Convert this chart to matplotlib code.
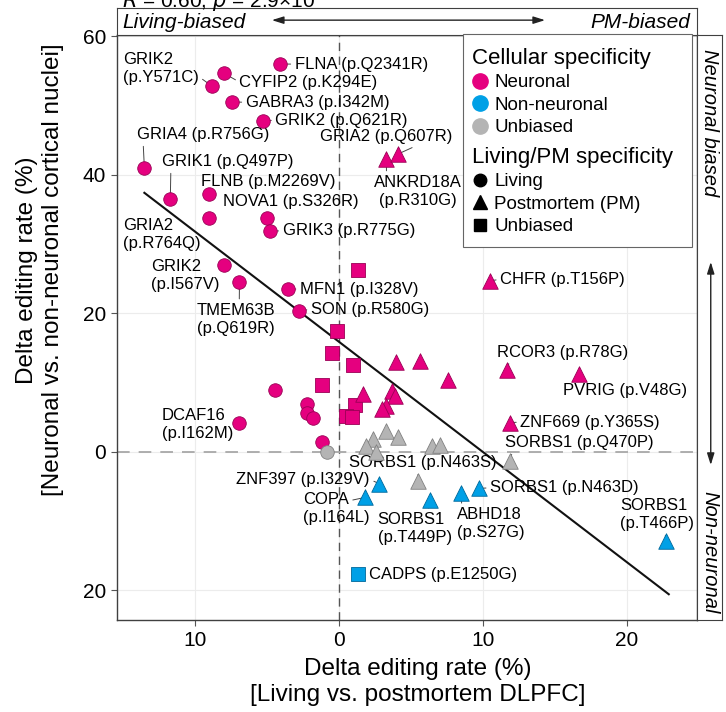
import matplotlib
matplotlib.use("Agg")
import matplotlib.pyplot as plt
from matplotlib.lines import Line2D
from matplotlib.patches import Rectangle

plt.rcParams["font.family"] = ["Liberation Sans", "DejaVu Sans"]

# delta editing rate: living vs PM (x) and neuronal vs non-neuronal nuclei (y)
site = [
    "GRIK2 (p.Y571C)", "CYFIP2 (p.K294E)", "FLNA (p.Q2341R)", "GABRA3 (p.I342M)",
    "GRIK2 (p.Q621R)", "GRIA4 (p.R756G)", "GRIK1 (p.Q497P)", "FLNB (p.M2269V)",
    "GRIA2 (p.R764Q)", "NOVA1 (p.S326R)", "GRIK3 (p.R775G)", "GRIK2 (p.I567V)",
    "TMEM63B (p.Q619R)", "MFN1 (p.I328V)", "SON (p.R580G)", "", "", "", "",
    "DCAF16 (p.I162M)", "", "",
    "", "", "", "", "", "", "", "",
    "ANKRD18A (p.R310G)", "GRIA2 (p.Q607R)", "CHFR (p.T156P)", "", "", "",
    "RCOR3 (p.R78G)", "PVRIG (p.V48G)", "ZNF669 (p.Y365S)", "", "", "", "", "",
    "", "", "", "", "", "", "", "SORBS1 (p.N463S)", "SORBS1 (p.Q470P)",
    "ZNF397 (p.I329V)", "COPA (p.I164L)", "SORBS1 (p.T449P)", "ABHD18 (p.S27G)",
    "SORBS1 (p.N463D)", "SORBS1 (p.T466P)",
    "CADPS (p.E1250G)",
]
d_living_pm = [
    -8.8, -8.0, -4.1, -7.4, -5.3, -13.5, -11.7, -9.0, -9.0, -5.0, -4.8, -8.0,
    -6.9, -3.5, -2.8, -4.4, -2.2, -2.2, -1.8, -6.9, -1.2, -0.8,
    1.3, -0.1, -0.5, 1.0, -1.2, 1.1, 0.5, 0.9,
    3.3, 4.1, 10.5, 4.0, 5.6, 7.6, 11.7, 16.7, 11.9, 1.7, 3.7, 3.9, 3.3, 3.0,
    2.4, 3.3, 4.1, 1.9, 2.6, 6.5, 7.0, 5.5, 11.9,
    2.8, 1.8, 6.3, 8.5, 9.7, 22.7,
    1.3,
]
d_neuronal = [
    52.8, 54.7, 56.0, 50.5, 47.8, 41.0, 36.5, 37.3, 33.8, 33.8, 31.9, 27.0,
    24.5, 23.5, 20.3, 8.9, 6.9, 5.6, 4.9, 4.2, 1.4, 0.0,
    26.3, 17.4, 14.2, 12.5, 9.6, 6.7, 5.2, 5.0,
    42.3, 43.0, 24.7, 12.9, 13.1, 10.4, 11.8, 11.2, 4.2, 8.3, 8.8, 8.0, 6.6, 6.2,
    1.9, 3.0, 2.1, 0.9, -0.1, 0.9, 1.0, -4.2, -1.3,
    -4.6, -6.6, -7.0, -6.0, -5.3, -12.9,
    -17.7,
]
cell_bias = (["Neuronal"] * 21 + ["Unbiased"] + ["Neuronal"] * 8 + ["Neuronal"] * 14
             + ["Unbiased"] * 9 + ["Non-neuronal"] * 7)
state_bias = (["Living"] * 22 + ["Unbiased"] * 8 + ["Postmortem"] * 14
              + ["Postmortem"] * 9 + ["Postmortem"] * 6 + ["Unbiased"])

fit_slope = -1.593
fit_intercept = 15.9
fit_x = [-13.5, 22.9]

# where each gene label sits: text x, text y, ha, leader start on text box, two lines
label_place = {
    "GRIK2 (p.Y571C)": (-15.0, 55.4, "left", (1.0, 0.25), True),
    "CYFIP2 (p.K294E)": (-6.9, 53.4, "left", (0, 0.5), False),
    "FLNA (p.Q2341R)": (-3.06, 56.0, "left", (0, 0.5), False),
    "GABRA3 (p.I342M)": (-6.46, 50.5, "left", (0, 0.5), False),
    "GRIK2 (p.Q621R)": (-4.4, 47.9, "left", (0, 0.5), False),
    "GRIA2 (p.Q607R)": (3.3, 45.5, "center", (0.75, 0), False),
    "ANKRD18A (p.R310G)": (5.5, 37.6, "center", (0.14, 1), True),
    "GRIA4 (p.R756G)": (-14.0, 45.8, "left", (0.045, 0), False),
    "GRIK1 (p.Q497P)": (-12.3, 41.9, "left", (0.07, 0), False),
    "FLNB (p.M2269V)": (-9.6, 39.0, "left", (0.06, 0), False),
    "NOVA1 (p.S326R)": (-8.06, 36.1, "left", (0.3, 0), False),
    "GRIK3 (p.R775G)": (-3.9, 31.9, "left", (0, 0.5), False),
    "GRIA2 (p.R764Q)": (-15.0, 31.4, "left", (0.88, 0.6), True),
    "GRIK2 (p.I567V)": (-13.06, 25.5, "left", (0.8, 0.75), True),
    "TMEM63B (p.Q619R)": (-9.86, 19.1, "left", (0.54, 1), True),
    "MFN1 (p.I328V)": (-2.7, 23.5, "left", (0, 0.5), False),
    "SON (p.R580G)": (-1.94, 20.6, "left", (0, 0.5), False),
    "DCAF16 (p.I162M)": (-12.3, 4.0, "left", (0.89, 0.75), True),
    "CHFR (p.T156P)": (11.2, 24.9, "left", (0, 0.5), False),
    "RCOR3 (p.R78G)": (15.5, 14.4, "center", (0.1, 0), False),
    "PVRIG (p.V48G)": (19.9, 8.8, "center", (0.14, 1), False),
    "ZNF669 (p.Y365S)": (12.6, 4.3, "left", (0, 0.5), False),
    "SORBS1 (p.Q470P)": (16.7, 1.3, "center", (0.05, 0), False),
    "SORBS1 (p.N463S)": (5.8, -1.6, "center", (0.47, 0), False),
    "ZNF397 (p.I329V)": (2.15, -4.0, "right", (1, 0.5), False),
    "COPA (p.I164L)": (-2.5, -8.2, "left", (0.73, 0.75), True),
    "SORBS1 (p.T449P)": (2.7, -11.1, "left", (0.68, 1), True),
    "ABHD18 (p.S27G)": (8.2, -10.4, "left", (0.07, 1), True),
    "SORBS1 (p.N463D)": (10.5, -5.2, "left", (0, 0.5), False),
    "SORBS1 (p.T466P)": (19.5, -9.1, "left", (0.61, 0), True),
    "CADPS (p.E1250G)": (2.08, -17.7, "left", (0, 0.5), False),
}

fill = {"Neuronal": "#E5007F", "Non-neuronal": "#00A0E6", "Unbiased": "#B4B4B4"}
edge = {"Neuronal": "#9A0055", "Non-neuronal": "#00689A", "Unbiased": "#808080"}
shape = {"Living": "o", "Postmortem": "^", "Unbiased": "s"}
msize = {"o": 95, "^": 125, "s": 90}

W, H = 726, 712
fig = plt.figure(figsize=(W / 100, H / 100), dpi=100)
L, R, T, B = 117 / W, 697 / W, 1 - 35 / H, 1 - 620 / H
ax = fig.add_axes([L, B, R - L, T - B])
ax.set_xlim(-15.4, 24.86)
ax.set_ylim(-24.3, 60.2)

ax.set_xticks([-10, 0, 10, 20])
ax.set_xticklabels(["10", "0", "10", "20"])
ax.set_yticks([-20, 0, 20, 40, 60])
ax.set_yticklabels(["20", "0", "20", "40", "60"])
ax.tick_params(labelsize=15, length=4, width=0.8, color="#555555", pad=4)
ax.grid(color="#ececec", lw=0.8)
ax.set_axisbelow(True)
for sp in ax.spines.values():
    sp.set_color("#404040")
    sp.set_linewidth(1.0)

ax.axvline(0, color="#555555", lw=1.0, ls=(0, (6, 4)), zorder=1)
ax.axhline(0, color="#a8a8a8", lw=1.3, ls=(0, (7, 5)), zorder=1)

# regression line
ax.plot(fit_x, [fit_intercept + fit_slope * x for x in fit_x], color="#111111", lw=1.5, zorder=2)

for xv, yv, c, s in zip(d_living_pm, d_neuronal, cell_bias, state_bias):
    m = shape[s]
    ax.scatter(xv, yv, s=msize[m], marker=m, c=fill[c], edgecolors=edge[c],
               linewidths=0.6, zorder=4)

for name, xv, yv in zip(site, d_living_pm, d_neuronal):
    if not name:
        continue
    tx, ty, ha, rel, wrap = label_place[name]
    txt = name.replace(" ", "\n") if wrap else name
    ax.annotate(txt, xy=(xv, yv), xytext=(tx, ty), ha=ha, va="center",
                fontsize=12, linespacing=1.25, multialignment="left" if ha != "center" else "center",
                zorder=3,
                arrowprops=dict(arrowstyle="-", color="#444444", lw=0.7,
                                shrinkA=1, shrinkB=0, relpos=rel))

# top strip: living vs PM direction
axh = fig.add_axes([L, T, R - L, 27 / H])
axh.set_xticks([])
axh.set_yticks([])
for sp in axh.spines.values():
    sp.set_color("#404040")
axh.text(0.009, 0.45, "Living-biased", style="italic", fontsize=15, ha="left", va="center")
axh.text(0.988, 0.45, "PM-biased", style="italic", fontsize=15, ha="right", va="center")
axh.annotate("", xy=(0.267, 0.55), xytext=(0.738, 0.55), xycoords="axes fraction",
             arrowprops=dict(arrowstyle="<|-|>,head_length=0.7,head_width=0.22",
                             color="#222222", lw=1.0, shrinkA=0, shrinkB=0))

# right strip: neuronal vs non-neuronal direction
axr = fig.add_axes([R, B, 25 / W, T - B])
axr.set_xticks([])
axr.set_yticks([])
for sp in axr.spines.values():
    sp.set_color("#404040")
axr.text(0.5, 0.85, "Neuronal biased", style="italic", fontsize=14.5, rotation=270,
         ha="center", va="center")
axr.text(0.5, 0.116, "Non-neuronal", style="italic", fontsize=14.5, rotation=270,
         ha="center", va="center")
axr.annotate("", xy=(0.55, 0.612), xytext=(0.55, 0.265), xycoords="axes fraction",
             arrowprops=dict(arrowstyle="<|-|>,head_length=0.7,head_width=0.22",
                             color="#222222", lw=1.0, shrinkA=0, shrinkB=0))

fig.text(122 / W, 1 - 7 / H, "$R$ = 0.60, $p$ = 2.9×10", fontsize=15, ha="left", va="baseline")

fig.text(418 / W, 1 - 682 / H, "Delta editing rate (%)\n[Living vs. postmortem DLPFC]",
         fontsize=17.5, ha="center", va="center", linespacing=1.25)
fig.text(40 / W, 1 - 270 / H, "Delta editing rate (%)\n[Neuronal vs. non-neuronal cortical nuclei]",
         fontsize=17.5, ha="center", va="center", rotation=90, linespacing=1.25)

# legend: two stacked blocks inside one frame
fig.add_artist(Rectangle((463 / W, 1 - 247 / H), (692 - 463) / W, (247 - 34) / H,
                         transform=fig.transFigure, fc="white", ec="#666666", lw=0.8))
cell_names = ["Neuronal", "Non-neuronal", "Unbiased"]
cell_handles = [Line2D([], [], ls="none", marker="o", ms=11, mfc=fill[c], mec=fill[c])
                for c in cell_names]
state_names = ["Living", "Postmortem (PM)", "Unbiased"]
state_handles = [Line2D([], [], ls="none", marker=m, ms=ms, mfc="black", mec="black")
                 for m, ms in zip(["o", "^", "s"], [9, 10, 8])]
leg_kw = dict(loc="upper left", frameon=False, fontsize=13.5, title_fontsize=16,
              alignment="left", handlelength=0.8, handletextpad=0.4, labelspacing=0.28,
              borderpad=0, borderaxespad=0)
fig.legend(cell_handles, cell_names, title="Cellular specificity",
           bbox_to_anchor=(472 / W, 1 - 48 / H), **leg_kw)
fig.legend(state_handles, state_names, title="Living/PM specificity",
           bbox_to_anchor=(472 / W, 1 - 147 / H), **leg_kw)

fig.savefig("out.png", dpi=100)
